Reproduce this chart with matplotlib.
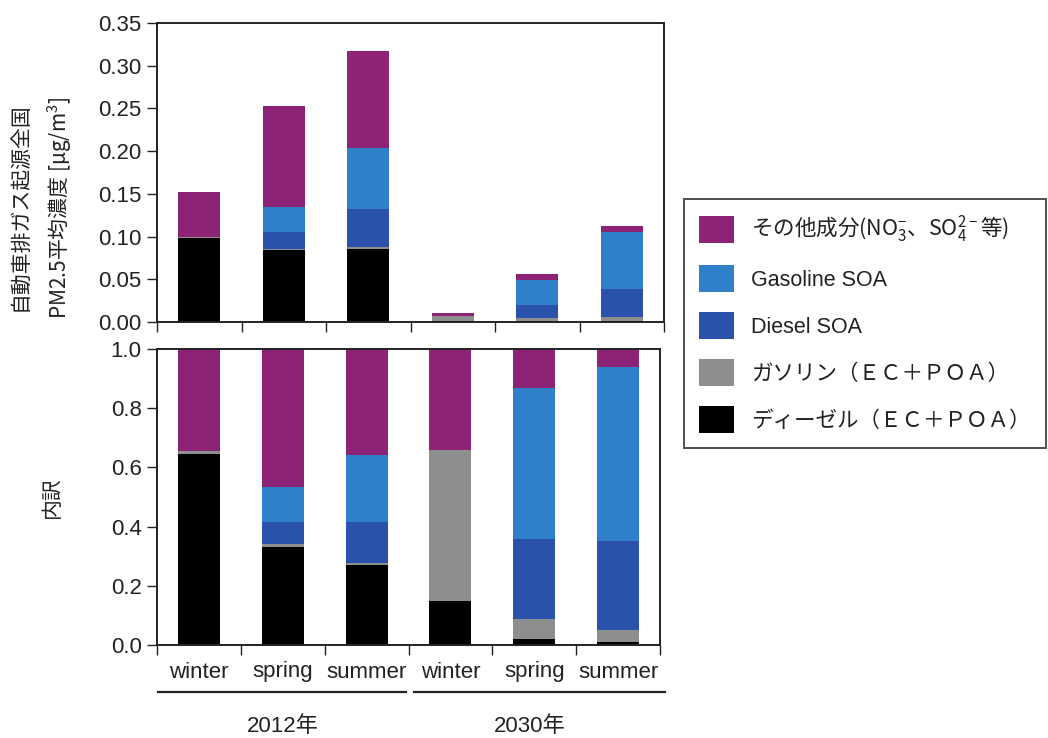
import numpy as np
import matplotlib
matplotlib.use("Agg")
import matplotlib.pyplot as plt
from matplotlib.patches import Patch
from matplotlib.lines import Line2D
import matplotlib.transforms as mtransforms

plt.rcParams['font.family'] = ['Liberation Sans', 'Noto Sans CJK JP', 'DejaVu Sans']
plt.rcParams['mathtext.default'] = 'regular'

# Seasons per scenario year
seasons = ["winter", "spring", "summer", "winter", "spring", "summer"]
years = ["2012年", "2030年"]

# Nationwide mean PM2.5 from vehicle exhaust [ug/m3], by component
diesel_poa = [0.098, 0.084, 0.086, 0.0015, 0.0011, 0.0011]
gasoline_poa = [0.0015, 0.002, 0.002, 0.0051, 0.0039, 0.0045]
diesel_soa = [0.0, 0.019, 0.044, 0.0, 0.0151, 0.0336]
gasoline_soa = [0.0, 0.030, 0.072, 0.0, 0.0286, 0.0661]
other = [0.0525, 0.118, 0.113, 0.0034, 0.0073, 0.0067]

labels = [
    "ディーゼル（ＥＣ＋ＰＯＡ）",
    "ガソリン（ＥＣ＋ＰＯＡ）",
    "Diesel SOA",
    "Gasoline SOA",
    "その他成分(NO$_3^{-}$、SO$_4^{2-}$等)",
]
colors = ["#000000", "#8e8e8e", "#2a52ad", "#2f80c8", "#8d2377"]

components = np.array([diesel_poa, gasoline_poa, diesel_soa, gasoline_soa, other])
totals = components.sum(axis=0)
fractions = components / totals

W, H = 1048, 738
fig = plt.figure(figsize=(W / 100, H / 100), dpi=100)
ax1 = fig.add_axes([157 / W, 1 - 322 / H, 507 / W, 299 / H])
ax2 = fig.add_axes([157 / W, 1 - 645 / H, 503 / W, 296 / H])

x = np.arange(len(seasons))
width = 0.5

for ax, data in ((ax1, components), (ax2, fractions)):
    bottom = np.zeros(len(seasons))
    for vals, col in zip(data, colors):
        ax.bar(x, vals, width, bottom=bottom, color=col, linewidth=0)
        bottom += vals
    ax.set_xlim(-0.5, len(seasons) - 0.5)
    ax.set_xticks(np.arange(-0.5, len(seasons), 1.0))
    ax.set_xticklabels([])
    ax.tick_params(axis='both', direction='out', length=7, width=1.0,
                   labelsize=16, pad=4, colors='#222222')
    for sp in ax.spines.values():
        sp.set_linewidth(1.4)
        sp.set_color('#222222')

ax1.set_ylim(0, 0.35)
ax1.set_yticks(np.arange(0, 0.351, 0.05))
ax1.set_yticklabels([f"{v:.2f}" for v in np.arange(0, 0.351, 0.05)])
ax2.set_ylim(0, 1.0)
ax2.set_yticks(np.arange(0, 1.01, 0.2))
ax2.set_yticklabels([f"{v:.1f}" for v in np.arange(0, 1.01, 0.2)])

# Season labels and year groupings under the lower panel
trans = mtransforms.blended_transform_factory(ax2.transData, fig.transFigure)
for xi, s in zip(x, seasons):
    fig.text(xi, 1 - 672 / H, s, transform=trans, ha='center', va='center',
             fontsize=16, color='#222222')
for (x0, x1), xc, yr in (((-0.49, 2.47), 1.0, years[0]), ((2.57, 5.56), 3.95, years[1])):
    fig.add_artist(Line2D([x0, x1], [1 - 692 / H] * 2, transform=trans,
                          color='#222222', linewidth=1.6))
    fig.text(xc, 1 - 727 / H, yr, transform=trans, ha='center', va='center',
             fontsize=16, color='#222222')

# Axis titles
fig.text(20 / W, 1 - 207 / H, "自動車排ガス起源全国", rotation=90,
         ha='center', va='center', fontsize=15, color='#222222')
fig.text(60 / W, 1 - 208 / H, "PM2.5平均濃度 [$\\mu$g/m$^3$]", rotation=90,
         ha='center', va='center', fontsize=15, color='#222222',
         family='Noto Sans CJK JP')
fig.text(52 / W, 1 - 497 / H, "内訳", rotation=90,
         ha='center', va='center', fontsize=15, color='#222222')

handles = [Patch(facecolor=c, edgecolor='none') for c in colors][::-1]
leg = fig.legend(handles, labels[::-1], loc='upper left',
                 bbox_to_anchor=(684 / W, 1 - 470 / H, 362 / W, 271 / H),
                 mode='expand', borderaxespad=0, fancybox=False,
                 frameon=True, fontsize=15.5, handlelength=1.6,
                 handleheight=1.6, handletextpad=0.8, labelspacing=0.9,
                 borderpad=0.7)
leg.get_frame().set_edgecolor('#222222')
leg.get_frame().set_linewidth(1.4)
for t in leg.get_texts():
    t.set_color('#222222')
leg.get_texts()[0].set_fontfamily('Noto Sans CJK JP')

fig.savefig("out.png", dpi=100)
